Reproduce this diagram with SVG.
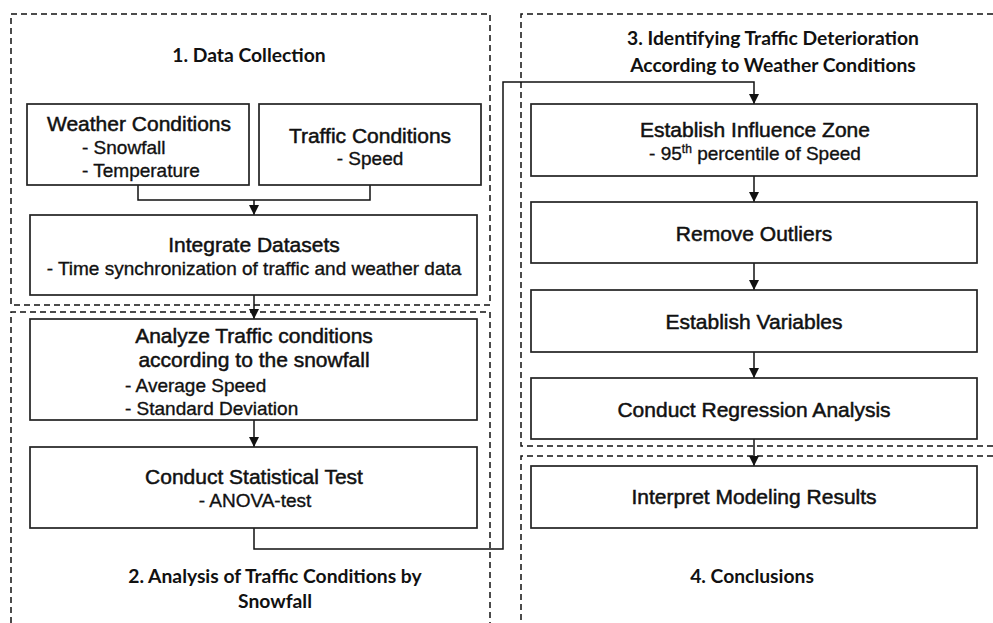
<svg xmlns="http://www.w3.org/2000/svg" width="993" height="623" viewBox="0 0 993 623">
<defs>
<marker id="arr" viewBox="0 0 10 10" refX="10" refY="5" markerWidth="10" markerHeight="10" markerUnits="userSpaceOnUse" orient="auto">
<path d="M0,0 L10,5 L0,10 z" fill="#111"/>
</marker>
</defs>
<style>
.zone{fill:none;stroke:#111;stroke-width:1.5;stroke-dasharray:6 4}
.box{fill:#fff;stroke:#222;stroke-width:1.7}
.conn{fill:none;stroke:#111;stroke-width:1.5}
.sec{font-family:Lato,"Liberation Sans",sans-serif;font-weight:bold;font-size:19.3px;fill:#111;text-anchor:middle}
.t{font-family:"Liberation Sans",Arial,sans-serif;font-size:21px;fill:#111;text-anchor:middle;stroke:#111;stroke-width:0.5}
.s{font-family:"Liberation Sans",Arial,sans-serif;font-size:19px;fill:#111;stroke:#111;stroke-width:0.35}
.sup{font-size:12px}
</style>
<rect width="993" height="623" fill="#fff"/>
<g id="zones">
<path class="zone" d="M11,623 V312 H490 V623"/>
<rect class="zone" x="11" y="14" width="479" height="291"/>
<path class="zone" d="M993,14 H521 V446 H993"/>
<path class="zone" d="M993,456 H521 V623"/>
</g>
<g id="section-titles">
<text class="sec" x="249" y="62">1. Data Collection</text>
<text class="sec" x="275" y="583">2. Analysis of Traffic Conditions by</text>
<text class="sec" x="275" y="608">Snowfall</text>
<text class="sec" x="773" y="45">3. Identifying Traffic Deterioration</text>
<text class="sec" x="773" y="72">According to Weather Conditions</text>
<text class="sec" x="752" y="583">4. Conclusions</text>
</g>
<g id="connectors">
<path class="conn" d="M138,185 V200 H370 V185"/>
<path class="conn" d="M254,200 V215" marker-end="url(#arr)"/>
<path class="conn" d="M254,295 V319" marker-end="url(#arr)"/>
<path class="conn" d="M254,420 V447" marker-end="url(#arr)"/>
<path class="conn" d="M254,528 V549 H503 V82 H754 V104" marker-end="url(#arr)"/>
<path class="conn" d="M754,176 V202" marker-end="url(#arr)"/>
<path class="conn" d="M754,263 V290" marker-end="url(#arr)"/>
<path class="conn" d="M754,352 V378" marker-end="url(#arr)"/>
<path class="conn" d="M754,439 V466" marker-end="url(#arr)"/>
</g>
<g id="weather">
<rect class="box" x="27" y="104" width="222" height="81"/>
<text class="t" x="139" y="131">Weather Conditions</text>
<text class="s" x="82" y="154">- Snowfall</text>
<text class="s" x="82" y="177">- Temperature</text>
</g>
<g id="traffic">
<rect class="box" x="259" y="104" width="222" height="81"/>
<text class="t" x="370" y="143">Traffic Conditions</text>
<text class="s" x="370" y="165" text-anchor="middle">- Speed</text>
</g>
<g id="integrate">
<rect class="box" x="30" y="215" width="447" height="80"/>
<text class="t" x="254" y="252">Integrate Datasets</text>
<text class="s" x="254" y="275" text-anchor="middle">- Time synchronization of traffic and weather data</text>
</g>
<g id="analyze">
<rect class="box" x="30" y="319" width="447" height="101"/>
<text class="t" x="254" y="343">Analyze Traffic conditions</text>
<text class="t" x="254" y="367">according to the snowfall</text>
<text class="s" x="125" y="392">- Average Speed</text>
<text class="s" x="125" y="415">- Standard Deviation</text>
</g>
<g id="statistical">
<rect class="box" x="30" y="447" width="447" height="81"/>
<text class="t" x="254" y="484">Conduct Statistical Test</text>
<text class="s" x="255" y="507" text-anchor="middle">- ANOVA-test</text>
</g>
<g id="influence">
<rect class="box" x="531" y="104" width="446" height="72"/>
<text class="t" x="755" y="137">Establish Influence Zone</text>
<text class="s" x="755" y="160" text-anchor="middle">- 95<tspan class="sup" dy="-7">th</tspan><tspan dy="7"> percentile of Speed</tspan></text>
</g>
<g id="outliers">
<rect class="box" x="531" y="202" width="446" height="61"/>
<text class="t" x="754" y="241">Remove Outliers</text>
</g>
<g id="variables">
<rect class="box" x="531" y="290" width="446" height="62"/>
<text class="t" x="754" y="329">Establish Variables</text>
</g>
<g id="regression">
<rect class="box" x="531" y="378" width="446" height="61"/>
<text class="t" x="754" y="417">Conduct Regression Analysis</text>
</g>
<g id="interpret">
<rect class="box" x="531" y="466" width="446" height="62"/>
<text class="t" x="754" y="504">Interpret Modeling Results</text>
</g>
</svg>
